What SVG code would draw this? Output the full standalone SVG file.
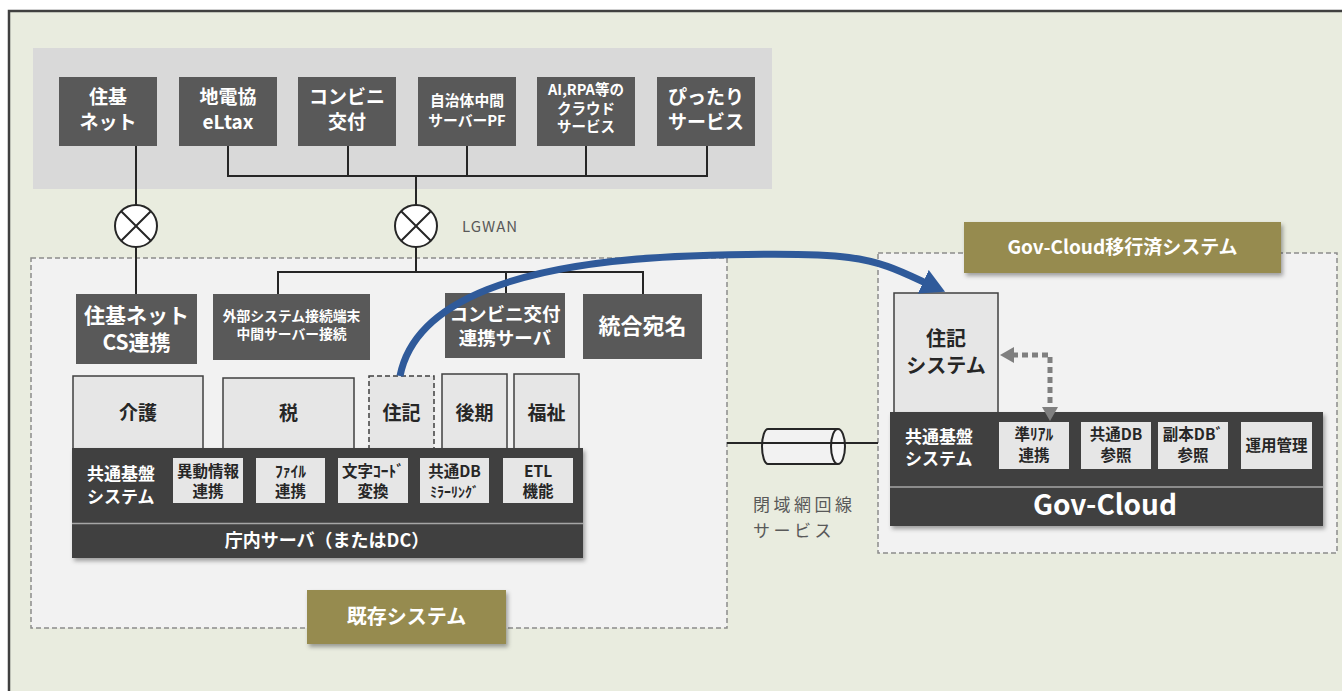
<svg xmlns="http://www.w3.org/2000/svg" width="1342" height="691" viewBox="0 0 1342 691">
<style>
text{font-family:"Noto Sans CJK JP","Noto Sans",sans-serif;}
.w{fill:#ffffff;font-weight:bold;text-anchor:middle;}
.wl{fill:#ffffff;font-weight:bold;}
.d{fill:#262626;font-weight:bold;text-anchor:middle;}
.dk{fill:#595959;}
.bar{fill:#404040;}
.lt{fill:#e6e6e6;stroke:#404040;stroke-width:1.5;}
.in{fill:#e6e6e6;}
.lab{fill:#968b50;}
.ln{fill:none;stroke:#262626;stroke-width:2;}
.zone{fill:#f2f2f2;stroke:#8c8c8c;stroke-width:1.5;stroke-dasharray:5 3;}
.g{fill:#595959;font-weight:normal;}
</style>
<defs>
<filter id="sh" x="-10%" y="-10%" width="130%" height="140%">
<feDropShadow dx="2" dy="3" stdDeviation="2" flood-color="#000" flood-opacity="0.35"/>
</filter>
<marker id="blueHead" markerUnits="userSpaceOnUse" markerWidth="26" markerHeight="26" refX="3" refY="13" orient="auto">
<path d="M0,0 L24,13 L0,26 z" fill="#2f5a9a"/>
</marker>
<marker id="grayHead" markerUnits="userSpaceOnUse" markerWidth="16" markerHeight="16" refX="2" refY="8" orient="auto-start-reverse">
<path d="M0,0 L14,8 L0,16 z" fill="#7f7f7f"/>
</marker>
</defs>
<rect x="0" y="0" width="1342" height="691" fill="#ffffff"/>
<rect x="9" y="11" width="1400" height="700" fill="#e9ecdf" stroke="#404040" stroke-width="2.5"/>

<!-- zones -->
<g id="top-panel"><rect x="33" y="48" width="739" height="141" fill="#d9d9d9"/></g>
<g id="zone-existing"><rect class="zone" x="31" y="258" width="696" height="370"/></g>
<g id="zone-govcloud"><rect class="zone" x="878" y="253" width="459" height="300"/></g>

<!-- top external services -->
<g id="n-juki-net"><rect class="dk" x="59" y="77" width="98" height="69"/>
<text class="w" font-size="19"><tspan x="108" y="103.5">住基</tspan><tspan x="108" y="128.5">ネット</tspan></text></g>
<g id="n-eltax"><rect class="dk" x="179" y="77" width="98" height="69"/>
<text class="w" font-size="19"><tspan x="228" y="103.5">地電協</tspan><tspan x="228" y="128.5">eLtax</tspan></text></g>
<g id="n-konbini"><rect class="dk" x="298" y="77" width="98" height="69"/>
<text class="w" font-size="19"><tspan x="347" y="103.5">コンビニ</tspan><tspan x="347" y="128.5">交付</tspan></text></g>
<g id="n-chukan-pf"><rect class="dk" x="418" y="77" width="98" height="69"/>
<text class="w" font-size="14.8"><tspan x="467" y="106">自治体中間</tspan><tspan x="467" y="125.5">サーバーPF</tspan></text></g>
<g id="n-ai-rpa"><rect class="dk" x="537" y="77" width="98" height="69"/>
<text class="w" font-size="14.5"><tspan x="586" y="95">AI,RPA等の</tspan><tspan x="586" y="113.5">クラウド</tspan><tspan x="586" y="132">サービス</tspan></text></g>
<g id="n-pittari"><rect class="dk" x="657" y="77" width="98" height="69"/>
<text class="w" font-size="19"><tspan x="706" y="103.5">ぴったり</tspan><tspan x="706" y="128.5">サービス</tspan></text></g>

<!-- network symbols -->
<g id="n-gw-juki"><circle cx="136" cy="226" r="21" fill="#ffffff" stroke="#262626" stroke-width="2"/>
<path class="ln" d="M121.2 211.2 L150.8 240.8 M150.8 211.2 L121.2 240.8"/></g>
<g id="n-gw-lgwan"><circle cx="416" cy="226" r="21" fill="#ffffff" stroke="#262626" stroke-width="2"/>
<path class="ln" d="M401.2 211.2 L430.8 240.8 M430.8 211.2 L401.2 240.8"/>
<text class="g" x="462" y="232" font-size="15" letter-spacing="1">LGWAN</text></g>

<!-- existing system nodes -->
<g id="n-cs"><rect class="dk" x="76" y="294" width="121" height="70"/>
<text class="w" font-size="21"><tspan x="136.5" y="322.5">住基ネット</tspan><tspan x="136.5" y="350">CS連携</tspan></text></g>
<g id="n-gaibu"><rect class="dk" x="213" y="294" width="157" height="66"/>
<text class="w" font-size="13.8"><tspan x="291.5" y="320.5">外部システム接続端末</tspan><tspan x="291.5" y="338.5">中間サーバー接続</tspan></text></g>
<g id="n-konbini-srv"><rect class="dk" x="445" y="293" width="120" height="65"/>
<text class="w" font-size="18.5"><tspan x="505" y="320.5">コンビニ交付</tspan><tspan x="505" y="345">連携サーバ</tspan></text></g>
<g id="n-atena"><rect class="dk" x="583" y="294" width="119" height="65"/>
<text class="w" x="642.5" y="334" font-size="22">統合宛名</text></g>

<g id="n-kaigo"><rect class="lt" x="73" y="376" width="130" height="76"/><text class="d" x="138" y="420" font-size="19">介護</text></g>
<g id="n-zei"><rect class="lt" x="223" y="378" width="131" height="74"/><text class="d" x="288.5" y="420" font-size="19">税</text></g>
<g id="n-juki-old"><rect x="369" y="376" width="65" height="76" fill="#e6e6e6" stroke="#404040" stroke-width="1.5" stroke-dasharray="5 3"/><text class="d" x="401.5" y="420" font-size="19">住記</text></g>
<g id="n-kouki"><rect class="lt" x="442" y="374" width="65" height="78"/><text class="d" x="474.5" y="420" font-size="19">後期</text></g>
<g id="n-fukushi"><rect class="lt" x="514" y="374" width="65" height="78"/><text class="d" x="546.5" y="420" font-size="19">福祉</text></g>

<g id="n-kiban-old">
<rect class="bar" x="72" y="448" width="511" height="110" filter="url(#sh)"/>
<line x1="72" y1="523.5" x2="583" y2="523.5" stroke="#a6a6a6" stroke-width="1.5"/>
<text class="wl" font-size="17"><tspan x="87" y="480">共通基盤</tspan><tspan x="87" y="502.5">システム</tspan></text>
<rect class="in" x="173" y="458" width="70" height="45"/><text class="d" font-size="15.5"><tspan x="208" y="477">異動情報</tspan><tspan x="208" y="497">連携</tspan></text>
<rect class="in" x="256" y="458" width="69" height="45"/><text class="d" font-size="15.5"><tspan x="290.5" y="477">ﾌｧｲﾙ</tspan><tspan x="290.5" y="497">連携</tspan></text>
<rect class="in" x="338" y="458" width="70" height="45"/><text class="d" font-size="15.5"><tspan x="373" y="477">文字ｺｰﾄﾞ</tspan><tspan x="373" y="497">変換</tspan></text>
<rect class="in" x="420" y="458" width="69" height="45"/><text class="d" font-size="15.5"><tspan x="454.5" y="477">共通DB</tspan><tspan x="454.5" y="497" font-size="14">ﾐﾗｰﾘﾝｸﾞ</tspan></text>
<rect class="in" x="503" y="458" width="70" height="45"/><text class="d" font-size="15.5"><tspan x="538" y="477">ETL</tspan><tspan x="538" y="497">機能</tspan></text>
<text class="w" x="327" y="547" font-size="18">庁内サーバ（またはDC）</text>
</g>
<g id="n-label-existing"><rect class="lab" x="307" y="590" width="199" height="54" filter="url(#sh)"/><text class="w" x="406.5" y="624" font-size="20">既存システム</text></g>

<!-- closed network -->
<g id="n-line-service">
<path d="M838 429 H768 A6 17.5 0 0 0 768 464 H838" fill="#f2f2f2" stroke="#262626" stroke-width="2"/>
<ellipse cx="838" cy="446.5" rx="7" ry="17.5" fill="#f7f7f7" stroke="#262626" stroke-width="2"/>
<text class="g" font-size="17" letter-spacing="3.5"><tspan x="753" y="511">閉域網回線</tspan><tspan x="753" y="537">サービス</tspan></text>
</g>

<!-- gov-cloud -->
<g id="n-label-gov"><rect class="lab" x="964" y="222" width="317" height="51" filter="url(#sh)"/><text class="w" x="1122.5" y="254" font-size="19">Gov-Cloud移行済システム</text></g>
<g id="n-juki-sys"><rect class="lt" x="894" y="293" width="104" height="122"/>
<text class="d" font-size="20"><tspan x="946" y="346">住記</tspan><tspan x="946" y="373">システム</tspan></text></g>
<g id="n-gov-cloud">
<rect class="bar" x="890" y="412" width="433" height="114" filter="url(#sh)"/>
<line x1="890" y1="487" x2="1323" y2="487" stroke="#a6a6a6" stroke-width="1.5"/>
<text class="wl" font-size="17"><tspan x="905" y="442.5">共通基盤</tspan><tspan x="905" y="465">システム</tspan></text>
<rect class="in" x="999" y="422" width="70" height="47"/><text class="d" font-size="15.5"><tspan x="1034" y="440">準ﾘｱﾙ</tspan><tspan x="1034" y="461">連携</tspan></text>
<rect class="in" x="1081" y="422" width="70" height="47"/><text class="d" font-size="15.5"><tspan x="1116" y="440">共通DB</tspan><tspan x="1116" y="461">参照</tspan></text>
<rect class="in" x="1158" y="422" width="70" height="47"/><text class="d" font-size="15.5"><tspan x="1193" y="440">副本DBﾞ</tspan><tspan x="1193" y="461">参照</tspan></text>
<rect class="in" x="1241" y="422" width="71" height="47"/><text class="d" x="1276.5" y="451" font-size="15.5">運用管理</text>
<text class="w" x="1105" y="515" font-size="28">Gov-Cloud</text>
</g>

<!-- connectors -->
<g id="connectors">
<path class="ln" d="M136 146 V205 M136 247 V294"/>
<path class="ln" d="M228 146 V176 H707 V146 M348 146 V176 M467 146 V176 M586 146 V176 M416 176 V205"/>
<path class="ln" d="M416 247 V272 M278 294 V272 H643 V294 M506 272 V293"/>
<line class="ln" x1="727" y1="443" x2="878" y2="443"/>
<path d="M1012 355 H1050 V409" fill="none" stroke="#7f7f7f" stroke-width="5" stroke-dasharray="6 4" marker-start="url(#grayHead)" marker-end="url(#grayHead)"/>
<path d="M400 376 C415 300 520 262 690 256 S872 258 926 283" fill="none" stroke="#2f5a9a" stroke-width="7" marker-end="url(#blueHead)"/>
</g>
</svg>
